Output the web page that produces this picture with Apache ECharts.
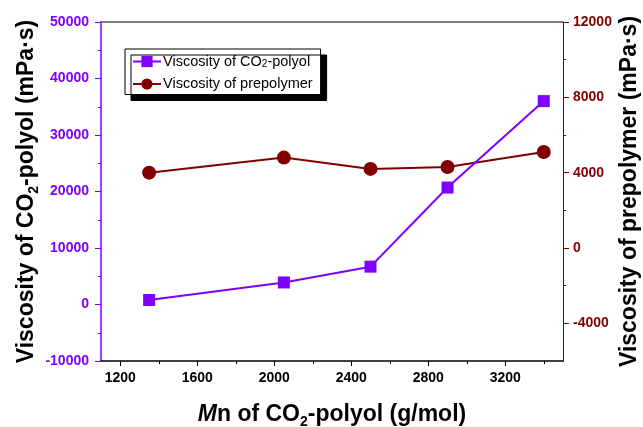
<!DOCTYPE html>
<html>
<head>
<meta charset="utf-8">
<script src="https://cdn.jsdelivr.net/npm/echarts@6/dist/echarts.min.js"></script>
<style>
  html, body { margin: 0; padding: 0; background: #fff; }
  #chart { width: 643px; height: 427px; }
</style>
</head>
<body>
<div id="chart"></div>
<script>
// Number-average molecular weight of the CO2-polyol (g/mol)
const mn = [1350, 2050, 2500, 2900, 3400];
// Viscosity of CO2-polyol (mPa·s), left axis
const polyolViscosity = [800, 3900, 6700, 20700, 36000];
// Viscosity of prepolymer (mPa·s), right axis
const prepolymerViscosity = [4000, 4800, 4200, 4300, 5100];

// Axis ranges and tick positions
const xRange = [1100, 3500];
const xMajorTicks = [1200, 1600, 2000, 2400, 2800, 3200];
const xMinorTicks = [1400, 1800, 2200, 2600, 3000, 3400];
const rightRange = [-6000, 12000];
const rightMajorTicks = [-4000, 0, 4000, 8000, 12000];
const rightMinorTicks = [-2000, 2000, 6000, 10000];

const PURPLE = '#8000ff';
const DARKRED = '#800000';
const FONT = '"Liberation Sans", Arial, sans-serif';
const TITLE_SIZE = 23;
const TICK_SIZE = 14;

const plainNumber = v => String(v);

const titleRich = {
  fontFamily: FONT, fontWeight: 'bold', fontSize: TITLE_SIZE, color: '#000', lineHeight: 28,
  rich: {
    t: { fontFamily: FONT, fontWeight: 'bold', fontSize: TITLE_SIZE, color: '#000', lineHeight: 28 },
    i: { fontFamily: FONT, fontWeight: 'bold', fontStyle: 'italic', fontSize: TITLE_SIZE, color: '#000', lineHeight: 28 },
    sub: { fontFamily: FONT, fontWeight: 'bold', fontSize: 14, color: '#000', lineHeight: 18, verticalAlign: 'bottom' }
  }
};

// Extra axes that only draw tick marks at the listed values
function bottomTicks(values, len) {
  return {
    type: 'value', position: 'bottom', min: xRange[0], max: xRange[1],
    axisLine: { show: false, onZero: false },
    axisTick: { show: true, inside: false, interval: 0, length: len, customValues: values, lineStyle: { color: '#000', width: 1 } },
    axisLabel: { show: false },
    splitLine: { show: false }
  };
}
function rightTicks(values, len) {
  return {
    type: 'value', position: 'right', min: rightRange[0], max: rightRange[1],
    axisLine: { show: false, onZero: false },
    axisTick: { show: true, inside: false, interval: 0, length: len, customValues: values, lineStyle: { color: DARKRED, width: 1 } },
    axisLabel: { show: false },
    splitLine: { show: false }
  };
}

const chart = echarts.init(document.getElementById('chart'), null, { renderer: 'canvas' });

const option = {
  backgroundColor: '#fff',
  animation: false,
  grid: { left: 101, right: 80, top: 22, bottom: 66, containLabel: false, outerBoundsMode: 'none' },
  legend: {
    orient: 'vertical',
    left: 125,
    top: 49,
    padding: [5, 8, 3, 7],
    itemGap: 7,
    itemWidth: 28,
    itemHeight: 14,
    backgroundColor: '#fff',
    borderColor: '#000',
    borderWidth: 1,
    shadowColor: '#000',
    shadowBlur: 0,
    shadowOffsetX: 6,
    shadowOffsetY: 6,
    formatter: function (name) {
      return name === 'polyol'
        ? '{t|Viscosity of CO}{sub|2}{t|-polyol}'
        : '{t|Viscosity of prepolymer}';
    },
    textStyle: {
      fontFamily: FONT, fontSize: 14.5, color: '#000', padding: [0, 0, 0, -3],
      rich: {
        t: { fontFamily: FONT, fontSize: 14.5, color: '#000', lineHeight: 16 },
        sub: { fontFamily: FONT, fontSize: 10, color: '#000', lineHeight: 11, verticalAlign: 'bottom' }
      }
    },
    data: ['polyol', 'prepolymer']
  },
  xAxis: [
    {
      type: 'value', position: 'bottom', min: xRange[0], max: xRange[1],
      name: '{i|M}{t|n of CO}{sub|2}{t|-polyol (g/mol)}',
      nameLocation: 'middle', nameGap: 40, nameMoveOverlap: false,
      nameTextStyle: titleRich,
      axisLine: { show: true, onZero: false, lineStyle: { color: '#000', width: 1.5 } },
      axisTick: { show: false },
      axisLabel: { show: true, margin: 10, customValues: xMajorTicks, formatter: plainNumber, fontFamily: FONT, fontWeight: 'bold', fontSize: TICK_SIZE, color: '#000' },
      splitLine: { show: false }
    },
    {
      type: 'value', position: 'top', min: xRange[0], max: xRange[1],
      axisLine: { show: true, onZero: false, lineStyle: { color: '#555', width: 1.5 } },
      axisTick: { show: false },
      axisLabel: { show: false },
      splitLine: { show: false }
    },
    bottomTicks(xMinorTicks, 3),
    bottomTicks(xMajorTicks, 5)
  ],
  yAxis: [
    {
      type: 'value', position: 'left', min: -10000, max: 50000, interval: 10000,
      name: '{t|Viscosity of CO}{sub|2}{t|-polyol (mPa·s)}',
      nameLocation: 'middle', nameRotate: 90, nameGap: 60, nameMoveOverlap: false,
      nameTextStyle: titleRich,
      axisLine: { show: true, onZero: false, lineStyle: { color: PURPLE, width: 1.5 } },
      axisTick: { show: true, inside: false, length: 6, lineStyle: { color: PURPLE, width: 1 } },
      minorTick: { show: true, splitNumber: 2, length: 3, lineStyle: { color: PURPLE, width: 1 } },
      axisLabel: { margin: 12, formatter: plainNumber, fontFamily: FONT, fontWeight: 'bold', fontSize: TICK_SIZE, color: PURPLE },
      splitLine: { show: false },
      minorSplitLine: { show: false }
    },
    {
      type: 'value', position: 'right', min: rightRange[0], max: rightRange[1],
      name: 'Viscosity of prepolymer (mPa·s)',
      nameLocation: 'middle', nameRotate: 90, nameGap: 55, nameMoveOverlap: false,
      nameTextStyle: { fontFamily: FONT, fontWeight: 'bold', fontSize: TITLE_SIZE, color: '#000' },
      axisLine: { show: true, onZero: false, lineStyle: { color: DARKRED, width: 1 } },
      axisTick: { show: false },
      axisLabel: { margin: 10, customValues: rightMajorTicks, formatter: plainNumber, fontFamily: FONT, fontWeight: 'bold', fontSize: TICK_SIZE, color: DARKRED },
      splitLine: { show: false }
    },
    rightTicks(rightMinorTicks, 3),
    rightTicks(rightMajorTicks, 6)
  ],
  series: [
    {
      name: 'prepolymer', type: 'line', xAxisIndex: 0, yAxisIndex: 1,
      data: mn.map((x, i) => [x, prepolymerViscosity[i]]),
      symbol: 'circle', symbolSize: 14,
      lineStyle: { color: DARKRED, width: 2 },
      itemStyle: { color: DARKRED },
      z: 3
    },
    {
      name: 'polyol', type: 'line', xAxisIndex: 0, yAxisIndex: 0,
      data: mn.map((x, i) => [x, polyolViscosity[i]]),
      symbol: 'rect', symbolSize: 12,
      lineStyle: { color: PURPLE, width: 2 },
      itemStyle: { color: PURPLE },
      z: 4
    }
  ]
};

chart.setOption(option);
</script>
</body>
</html>
